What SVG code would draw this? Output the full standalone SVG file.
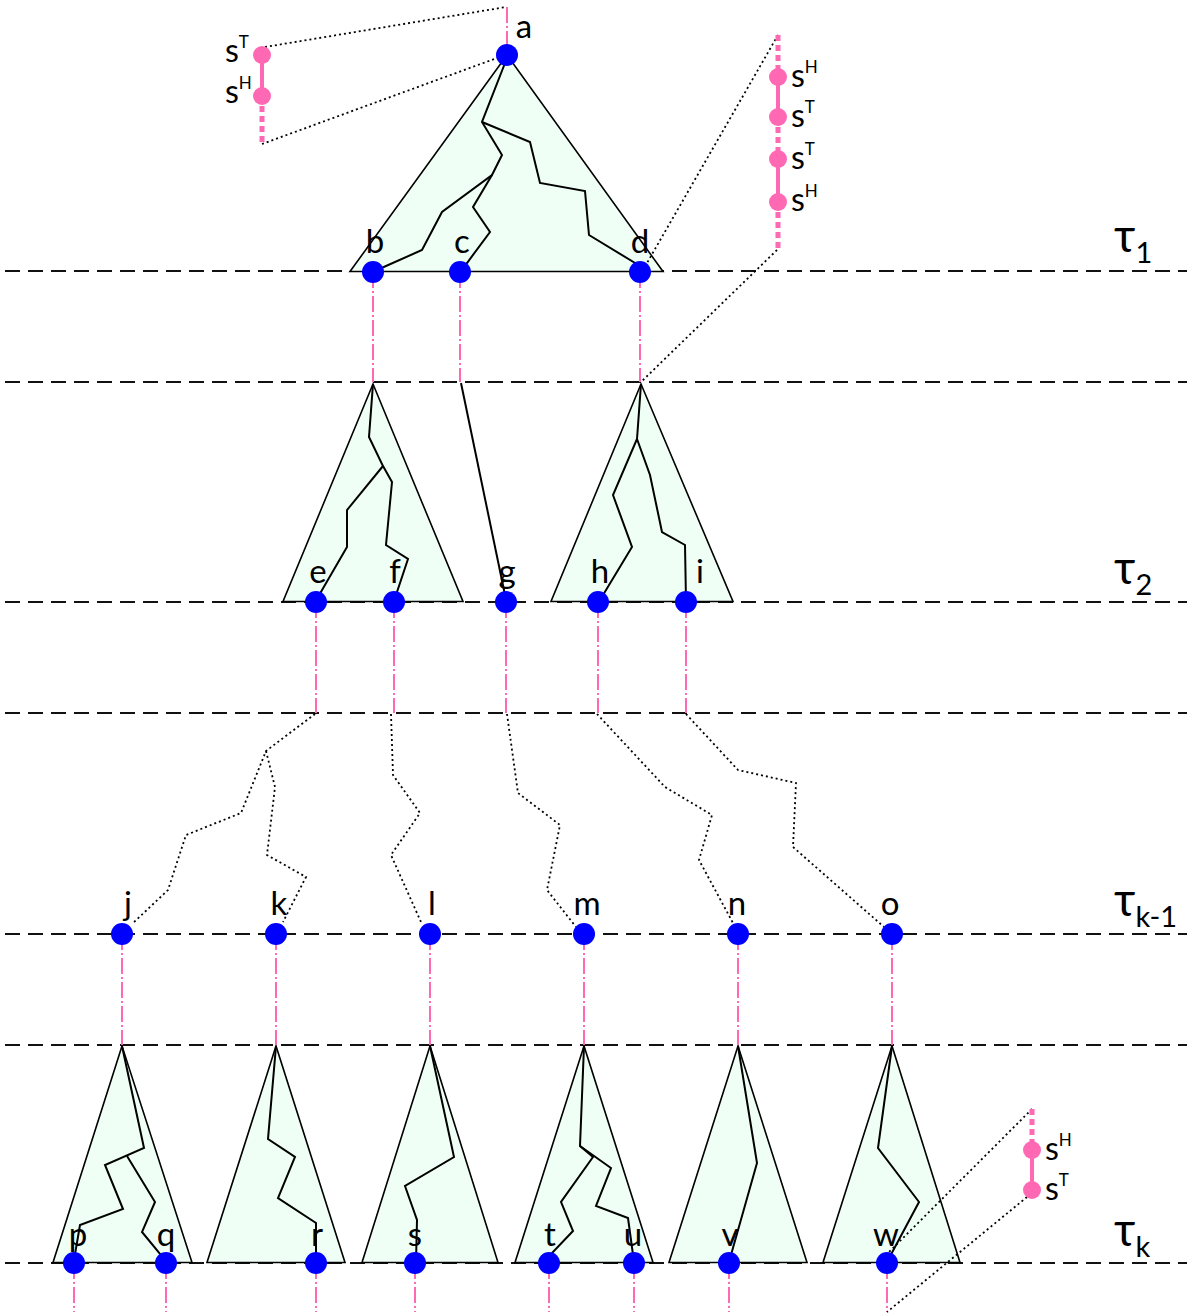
<svg xmlns="http://www.w3.org/2000/svg" width="1187" height="1315" viewBox="0 0 1187 1315">
<style>
  .lvl{stroke:#111;stroke-width:2;stroke-dasharray:15 8;fill:none}
  .tri{fill:#effff6;stroke:#000;stroke-width:1.6;stroke-linejoin:miter}
  .br{fill:none;stroke:#000;stroke-width:2;stroke-linejoin:miter}
  .pk{stroke:#ff69b4;stroke-width:2;stroke-dasharray:16 3 2 3;fill:none}
  .pkd{stroke:#ff69b4;stroke-width:5;stroke-dasharray:6 4;fill:none}
  .pks{stroke:#ff69b4;stroke-width:4;fill:none}
  .dot{stroke:#000;stroke-width:1.8;stroke-dasharray:2 3;fill:none}
  .nd{fill:#0000ff}
  .sd{fill:#ff69b4}
  .lb{font-family:Lato,"Liberation Sans",sans-serif;font-size:33px;fill:#000;text-anchor:middle}
  .sl{font-family:Lato,"Liberation Sans",sans-serif;font-size:32px;fill:#000}
  .sup{font-size:17px}
  .tau{font-family:Lato,"Liberation Sans",sans-serif;font-size:46px;fill:#000}
  .sub{font-size:29px}
</style>

<g id="levels">
  <line class="lvl" x1="5" y1="271" x2="1187" y2="271"/>
  <line class="lvl" x1="5" y1="382" x2="1187" y2="382"/>
  <line class="lvl" x1="5" y1="602" x2="1187" y2="602"/>
  <line class="lvl" x1="5" y1="713" x2="1187" y2="713"/>
  <line class="lvl" x1="5" y1="934" x2="1187" y2="934"/>
  <line class="lvl" x1="5" y1="1045" x2="1187" y2="1045"/>
  <line class="lvl" x1="5" y1="1263" x2="1187" y2="1263"/>
</g>

<g id="taus">
  <text class="tau" x="1114" y="252">τ<tspan class="sub" dy="11">1</tspan></text>
  <text class="tau" x="1114" y="584">τ<tspan class="sub" dy="11">2</tspan></text>
  <text class="tau" x="1114" y="916">τ<tspan class="sub" dy="11">k-1</tspan></text>
  <text class="tau" x="1114" y="1246">τ<tspan class="sub" dy="11">k</tspan></text>
</g>

<g id="trees">
  <g id="tree1">
    <polygon class="tri" points="507,55 350,271.5 663,271.5"/>
    <polyline class="br" points="507,58 482,122 502,155 492,175 442,212 422,250 377,270"/>
    <polyline class="br" points="492,175 473,207 490,232 467,263 460,271"/>
    <polyline class="br" points="482,122 530,142 540,183 585,191 589,235 640,266"/>
  </g>
  <g id="tree2">
    <polygon class="tri" points="373,384 283,601.5 463,601.5"/>
    <polyline class="br" points="373,384 369,437 383,466 347,510 347,547 318,597"/>
    <polyline class="br" points="383,466 392,482 386,545 408,559 397,592 394,601"/>
  </g>
  <g id="tree3">
    <polygon class="tri" points="641,384 551,601.5 733,601.5"/>
    <polyline class="br" points="641,384 637,439 613,495 632,547 600,600"/>
    <polyline class="br" points="637,439 650,475 662,532 685,545 686,601"/>
  </g>
  <g id="tree4">
    <polygon class="tri" points="122,1046 53,1262.5 192,1262.5"/>
    <polyline class="br" points="122,1046 144,1148 105,1165 123,1209 80,1225 74,1260"/>
    <polyline class="br" points="127,1156 155,1202 142,1232 161,1255 166,1262"/>
  </g>
  <g id="tree5">
    <polygon class="tri" points="276,1046 207,1262.5 345,1262.5"/>
    <polyline class="br" points="276,1046 268,1139 295,1157 278,1198 316,1223 316,1262"/>
  </g>
  <g id="tree6">
    <polygon class="tri" points="430,1046 362,1262.5 498,1262.5"/>
    <polyline class="br" points="430,1046 454,1157 405,1186 417,1220 416,1262"/>
  </g>
  <g id="tree7">
    <polygon class="tri" points="584,1046 515,1262.5 653,1262.5"/>
    <polyline class="br" points="584,1046 580,1146 593,1157 561,1202 573,1231 552,1253 549,1262"/>
    <polyline class="br" points="580,1146 611,1168 596,1206 628,1218 634,1262"/>
  </g>
  <g id="tree8">
    <polygon class="tri" points="738,1046 669,1262.5 807,1262.5"/>
    <polyline class="br" points="738,1046 757,1163 729,1262"/>
  </g>
  <g id="tree9">
    <polygon class="tri" points="892,1046 823,1262.5 960,1262.5"/>
    <polyline class="br" points="892,1046 878,1148 919,1202 887,1262"/>
  </g>
</g>

<g id="connectors">
  <line class="pk" x1="507" y1="7" x2="507" y2="46"/>
  <line class="pk" x1="373" y1="272" x2="373" y2="382"/>
  <line class="pk" x1="460" y1="272" x2="460" y2="382"/>
  <line class="pk" x1="640" y1="272" x2="640" y2="382"/>
  <line class="pk" x1="316" y1="602" x2="316" y2="713"/>
  <line class="pk" x1="394" y1="602" x2="394" y2="713"/>
  <line class="pk" x1="506" y1="602" x2="506" y2="713"/>
  <line class="pk" x1="598" y1="602" x2="598" y2="713"/>
  <line class="pk" x1="686" y1="602" x2="686" y2="713"/>
  <line class="pk" x1="122" y1="934" x2="122" y2="1045"/>
  <line class="pk" x1="276" y1="934" x2="276" y2="1045"/>
  <line class="pk" x1="430" y1="934" x2="430" y2="1045"/>
  <line class="pk" x1="584" y1="934" x2="584" y2="1045"/>
  <line class="pk" x1="738" y1="934" x2="738" y2="1045"/>
  <line class="pk" x1="892" y1="934" x2="892" y2="1045"/>
  <line class="pk" x1="74" y1="1263" x2="74" y2="1312"/>
  <line class="pk" x1="166" y1="1263" x2="166" y2="1312"/>
  <line class="pk" x1="316" y1="1263" x2="316" y2="1312"/>
  <line class="pk" x1="415" y1="1263" x2="415" y2="1312"/>
  <line class="pk" x1="549" y1="1263" x2="549" y2="1312"/>
  <line class="pk" x1="634" y1="1263" x2="634" y2="1312"/>
  <line class="pk" x1="729" y1="1263" x2="729" y2="1312"/>
  <line class="pk" x1="887" y1="1263" x2="887" y2="1312"/>
  <line class="br" x1="461" y1="383" x2="505" y2="595"/>
  <polyline class="dot" points="315,714 266,751 241,813 186,835 168,890 132,924"/>
  <polyline class="dot" points="266,751 275,787 267,855 306,877 283,922"/>
  <polyline class="dot" points="391,714 393,775 420,813 391,855 421,922"/>
  <polyline class="dot" points="507,714 518,793 560,825 547,890 576,927"/>
  <polyline class="dot" points="597,714 665,787 712,815 699,860 733,923"/>
  <polyline class="dot" points="686,714 738,770 796,783 793,847 884,927"/>
  <line class="dot" x1="265" y1="47" x2="506" y2="7"/>
  <line class="dot" x1="262" y1="144" x2="497" y2="58"/>
  <line class="dot" x1="778" y1="35" x2="647" y2="263"/>
  <line class="dot" x1="777" y1="250" x2="641" y2="382"/>
  <line class="dot" x1="1032" y1="1109" x2="887" y2="1254"/>
  <line class="dot" x1="1027" y1="1197" x2="887" y2="1312"/>
</g>

<g id="inset-a">
  <line class="pks" x1="262" y1="55" x2="262" y2="96"/>
  <line class="pkd" x1="262" y1="96" x2="262" y2="142"/>
  <circle class="sd" cx="262" cy="55" r="9"/>
  <circle class="sd" cx="262" cy="96" r="9"/>
  <text class="sl" x="225" y="62">s<tspan class="sup" dy="-14">T</tspan></text>
  <text class="sl" x="225" y="103">s<tspan class="sup" dy="-14">H</tspan></text>
</g>

<g id="inset-d">
  <line class="pkd" x1="778" y1="35" x2="778" y2="77"/>
  <line class="pks" x1="778" y1="77" x2="778" y2="117"/>
  <line class="pkd" x1="778" y1="117" x2="778" y2="159"/>
  <line class="pks" x1="778" y1="159" x2="778" y2="202"/>
  <line class="pkd" x1="778" y1="202" x2="778" y2="248"/>
  <circle class="sd" cx="778" cy="77" r="9"/>
  <circle class="sd" cx="778" cy="117" r="9"/>
  <circle class="sd" cx="778" cy="159" r="9"/>
  <circle class="sd" cx="778" cy="202" r="9"/>
  <text class="sl" x="791" y="87">s<tspan class="sup" dy="-14">H</tspan></text>
  <text class="sl" x="791" y="127">s<tspan class="sup" dy="-14">T</tspan></text>
  <text class="sl" x="791" y="169">s<tspan class="sup" dy="-14">T</tspan></text>
  <text class="sl" x="791" y="211">s<tspan class="sup" dy="-14">H</tspan></text>
</g>

<g id="inset-w">
  <line class="pkd" x1="1032" y1="1109" x2="1032" y2="1150"/>
  <line class="pks" x1="1032" y1="1150" x2="1032" y2="1190"/>
  <circle class="sd" cx="1032" cy="1150" r="9"/>
  <circle class="sd" cx="1032" cy="1190" r="9"/>
  <text class="sl" x="1045" y="1160">s<tspan class="sup" dy="-14">H</tspan></text>
  <text class="sl" x="1045" y="1200">s<tspan class="sup" dy="-14">T</tspan></text>
</g>

<g id="node-a"><circle class="nd" cx="507" cy="55" r="11"/><text class="lb" x="524" y="38">a</text></g>
<g id="node-b"><circle class="nd" cx="373" cy="272" r="11"/><text class="lb" x="375" y="253">b</text></g>
<g id="node-c"><circle class="nd" cx="460" cy="272" r="11"/><text class="lb" x="462" y="253">c</text></g>
<g id="node-d"><circle class="nd" cx="640" cy="272" r="11"/><text class="lb" x="640" y="253">d</text></g>
<g id="node-e"><circle class="nd" cx="316" cy="602" r="11"/><text class="lb" x="318" y="583">e</text></g>
<g id="node-f"><circle class="nd" cx="394" cy="602" r="11"/><text class="lb" x="395" y="583">f</text></g>
<g id="node-g"><circle class="nd" cx="506" cy="602" r="11"/><text class="lb" x="507" y="583">g</text></g>
<g id="node-h"><circle class="nd" cx="598" cy="602" r="11"/><text class="lb" x="600" y="583">h</text></g>
<g id="node-i"><circle class="nd" cx="686" cy="602" r="11"/><text class="lb" x="700" y="583">i</text></g>
<g id="node-j"><circle class="nd" cx="122" cy="934" r="11"/><text class="lb" x="128" y="915">j</text></g>
<g id="node-k"><circle class="nd" cx="276" cy="934" r="11"/><text class="lb" x="279" y="915">k</text></g>
<g id="node-l"><circle class="nd" cx="430" cy="934" r="11"/><text class="lb" x="432" y="915">l</text></g>
<g id="node-m"><circle class="nd" cx="584" cy="934" r="11"/><text class="lb" x="587" y="915">m</text></g>
<g id="node-n"><circle class="nd" cx="738" cy="934" r="11"/><text class="lb" x="737" y="915">n</text></g>
<g id="node-o"><circle class="nd" cx="892" cy="934" r="11"/><text class="lb" x="890" y="915">o</text></g>
<g id="node-p"><circle class="nd" cx="74" cy="1263" r="11"/><text class="lb" x="78" y="1246">p</text></g>
<g id="node-q"><circle class="nd" cx="166" cy="1263" r="11"/><text class="lb" x="166" y="1246">q</text></g>
<g id="node-r"><circle class="nd" cx="316" cy="1263" r="11"/><text class="lb" x="317" y="1246">r</text></g>
<g id="node-s"><circle class="nd" cx="415" cy="1263" r="11"/><text class="lb" x="415" y="1246">s</text></g>
<g id="node-t"><circle class="nd" cx="549" cy="1263" r="11"/><text class="lb" x="550" y="1246">t</text></g>
<g id="node-u"><circle class="nd" cx="634" cy="1263" r="11"/><text class="lb" x="633" y="1246">u</text></g>
<g id="node-v"><circle class="nd" cx="729" cy="1263" r="11"/><text class="lb" x="730" y="1246">v</text></g>
<g id="node-w"><circle class="nd" cx="887" cy="1263" r="11"/><text class="lb" x="886" y="1246">w</text></g>
</svg>
